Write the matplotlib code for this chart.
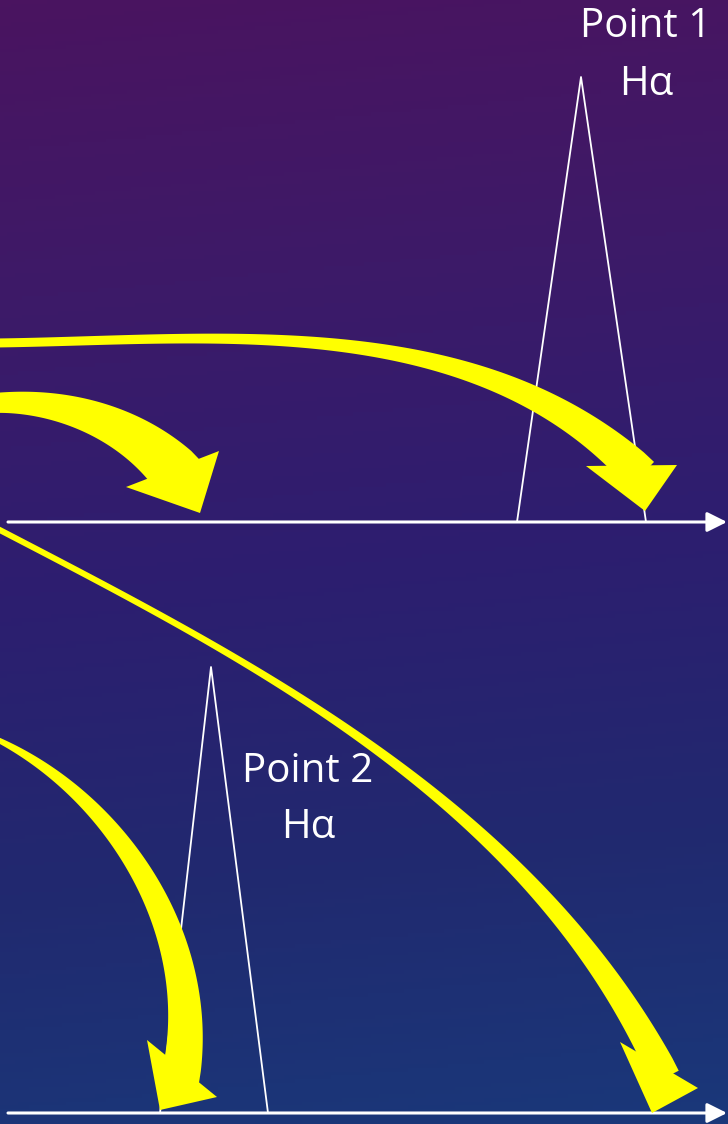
import numpy as np
import matplotlib
matplotlib.use("Agg")
import matplotlib.pyplot as plt
from matplotlib.colors import LinearSegmentedColormap

# =========================
# Data (pixel space of the slide, y grows downward)
# =========================

# spectrum baselines (y) and their x extent
axis_y = [522, 1113]
axis_x = [8, 727]

# emission peaks: left foot, apex, right foot
peak_left_x = [517, 160]
peak_apex_x = [581, 211]
peak_right_x = [646, 268]
peak_apex_y = [77, 667]

# labels
label_lines = [["Point 1", "H\u03b1"], ["Point 2", "H\u03b1"]]
label_x = [646, 308]
label_baseline_y = [[37, 95], [782, 838]]

# curved arrows: waypoints of the shaft centre line, then head (two back corners + tip)
arrow_path_a = [(-6, 343), (139, 338), (325, 346), (464, 369), (534, 399), (600, 435)]
arrow_path_b = [(-6, 403), (60, 408), (110, 425), (145, 445)]
arrow_path_c = [(-6, 527), (100, 582), (200, 637), (300, 700), (400, 766),
                (502, 852), (593, 960), (637, 1030)]
arrow_path_d = [(-6, 738), (40, 768), (88, 800), (125, 850), (155, 900),
                (175, 950), (185, 1000), (184, 1035)]
arrow_paths = [arrow_path_a, arrow_path_b, arrow_path_c, arrow_path_d]

arrow_corner_a = [(586, 466), (126, 487), (620, 1042), (147, 1040)]
arrow_corner_b = [(677, 465), (219, 451), (698, 1088), (217, 1097)]
arrow_tip = [(645, 511), (200, 513), (652, 1113), (160, 1110)]
arrow_w_start = [9, 20, 6, 5]
arrow_w_end = [36, 52, 30, 38]
arrow_w_power = [3.0, 1.3, 3.0, 1.0]

# background colour stops, top to bottom
bg_colors = ["#4a1460", "#3d1a68", "#2d1e70", "#21296f", "#1a387a"]

W, H = 728, 1124


def bernstein(t):
    t = np.asarray(t)[:, None]
    return ((1 - t) ** 3, 3 * (1 - t) ** 2 * t, 3 * (1 - t) * t ** 2, t ** 3)


def fit_bezier(points):
    # least-squares cubic bezier with fixed end points
    p = np.asarray(points, dtype=float)
    chord = np.concatenate([[0], np.cumsum(np.linalg.norm(np.diff(p, axis=0), axis=1))])
    t = chord / chord[-1]
    b0, b1, b2, b3 = bernstein(t)
    rhs = p - b0 * p[0] - b3 * p[-1]
    A = np.hstack([b1, b2])
    ctrl, *_ = np.linalg.lstsq(A, rhs, rcond=None)
    return p[0], ctrl[0], ctrl[1], p[-1]


def draw_curved_arrow(ax, i):
    ca = np.array(arrow_corner_a[i], dtype=float)
    cb = np.array(arrow_corner_b[i], dtype=float)
    neck = (ca + cb) / 2

    p0, p1, p2, p3 = fit_bezier(list(arrow_paths[i]) + [tuple(neck)])
    t = np.linspace(0, 1, 300)
    b0, b1, b2, b3 = bernstein(t)
    pts = b0 * p0 + b1 * p1 + b2 * p2 + b3 * p3
    tt = t[:, None]
    der = 3 * (1 - tt) ** 2 * (p1 - p0) + 6 * (1 - tt) * tt * (p2 - p1) + 3 * tt ** 2 * (p3 - p2)
    tang = der / np.linalg.norm(der, axis=1)[:, None]
    normal = np.column_stack([-tang[:, 1], tang[:, 0]])

    seg = np.linalg.norm(np.diff(pts, axis=0), axis=1)
    s = np.concatenate([[0], np.cumsum(seg)])
    s = s / s[-1]

    # push the shaft a little into the head so no gap shows
    pts = np.vstack([pts, pts[-1] + tang[-1] * 14])
    normal = np.vstack([normal, normal[-1]])
    s = np.append(s, 1.0)

    w = arrow_w_start[i] + (arrow_w_end[i] - arrow_w_start[i]) * s ** arrow_w_power[i]
    left = pts + normal * (w / 2)[:, None]
    right = pts - normal * (w / 2)[:, None]
    poly = np.vstack([left, right[::-1]])
    ax.fill(poly[:, 0], poly[:, 1], color="#ffff00", lw=0, zorder=4)

    head = np.array([ca, arrow_tip[i], cb])
    ax.fill(head[:, 0], head[:, 1], color="#ffff00", lw=0, zorder=4)


fig = plt.figure(figsize=(W / 100, H / 100), dpi=100)
ax = fig.add_axes([0, 0, 1, 1])
ax.set_xlim(0, W)
ax.set_ylim(H, 0)
ax.axis("off")

# =========================
# Background gradient
# =========================
cmap = LinearSegmentedColormap.from_list("bg", bg_colors)
yy = np.linspace(0, 1, 300)[:, None]
xx = np.linspace(0, 1, 200)[None, :]
grad = np.clip(yy * 0.94 + xx * 0.06, 0, 1)
ax.imshow(grad, cmap=cmap, extent=[0, W, H, 0], aspect="auto", zorder=0)

# =========================
# Peaks and baselines
# =========================
for k in range(2):
    ax.plot([peak_left_x[k], peak_apex_x[k], peak_right_x[k]],
            [axis_y[k], peak_apex_y[k], axis_y[k]],
            color="white", lw=1.3, zorder=2)

    ax.annotate("", xy=(axis_x[1], axis_y[k]), xytext=(axis_x[0], axis_y[k]),
                arrowprops=dict(arrowstyle="-|>", color="white", lw=2.2,
                                mutation_scale=30, shrinkA=0, shrinkB=0),
                zorder=3)

# =========================
# Yellow curved arrows
# =========================
for i in range(len(arrow_paths)):
    draw_curved_arrow(ax, i)

# =========================
# Labels
# =========================
for k in range(2):
    for line, yb in zip(label_lines[k], label_baseline_y[k]):
        ax.text(label_x[k], yb, line, color="white", fontsize=29,
                family=["Open Sans", "DejaVu Sans"],
                ha="center", va="baseline", zorder=5)

fig.savefig("out.png", dpi=100)
